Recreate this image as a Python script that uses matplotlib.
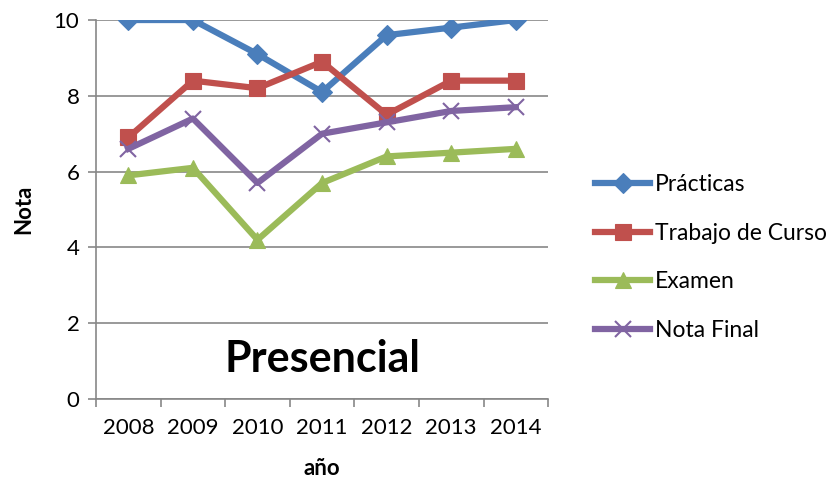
import matplotlib.pyplot as plt

years = ['2008', '2009', '2010', '2011', '2012', '2013', '2014']
practicas = [10, 10, 9.1, 8.1, 9.6, 9.8, 10]
trabajo = [6.9, 8.4, 8.2, 8.9, 7.5, 8.4, 8.4]
examen = [5.9, 6.1, 4.2, 5.7, 6.4, 6.5, 6.6]
nota_final = [6.6, 7.4, 5.7, 7.0, 7.3, 7.6, 7.7]

plt.rcParams['font.family'] = ['Lato', 'DejaVu Sans']

fig = plt.figure(figsize=(8.33, 4.88), dpi=100)
ax = fig.add_axes([0.1153, 0.1824, 0.5427, 0.7766])

x = range(len(years))
series = [
    (practicas, 'Prácticas', '#4A7EBB', 'D', 10),
    (trabajo, 'Trabajo de Curso', '#C0504D', 's', 11),
    (examen, 'Examen', '#9BBB59', '^', 12),
    (nota_final, 'Nota Final', '#8064A2', 'x', 12),
]
for vals, name, col, mk, ms in series:
    ax.plot(x, vals, color=col, linewidth=4.5, marker=mk, markersize=ms,
            markeredgewidth=1.5 if mk == 'x' else 0.8,
            markeredgecolor=col, markerfacecolor=col, label=name)

ax.set_xlim(-0.5, 6.5)
ax.set_ylim(0, 10)
ax.set_yticks(range(0, 11, 2))
ax.yaxis.grid(True, color='#878787', linewidth=1.2)
ax.set_axisbelow(True)
ax.set_xticks(list(x))
ax.set_xticklabels(years)
ax.set_xticks([i - 0.5 for i in range(8)], minor=True)
ax.tick_params(axis='x', which='major', length=0, labelsize=16, pad=14)
ax.tick_params(axis='x', which='minor', length=6, color='#878787', width=1.2)
ax.tick_params(axis='y', length=6, color='#878787', width=1.2, labelsize=16,
               pad=6)
for s in ['top', 'right']:
    ax.spines[s].set_visible(False)
for s in ['left', 'bottom']:
    ax.spines[s].set_color('#878787')
    ax.spines[s].set_linewidth(1.2)

ax.set_ylabel('Nota', fontsize=16, fontweight='bold', labelpad=14)
ax.set_xlabel('año', fontsize=16, fontweight='bold', labelpad=14)
ax.text(3, 1.05, 'Presencial', fontsize=31, fontweight='bold',
        ha='center', va='center')

fig.legend(loc='upper left', bbox_to_anchor=(0.69, 0.685), frameon=False,
           fontsize=16.5, handlelength=2.4, labelspacing=1.2,
           handletextpad=0.2)

plt.savefig('out.png', dpi=100)
